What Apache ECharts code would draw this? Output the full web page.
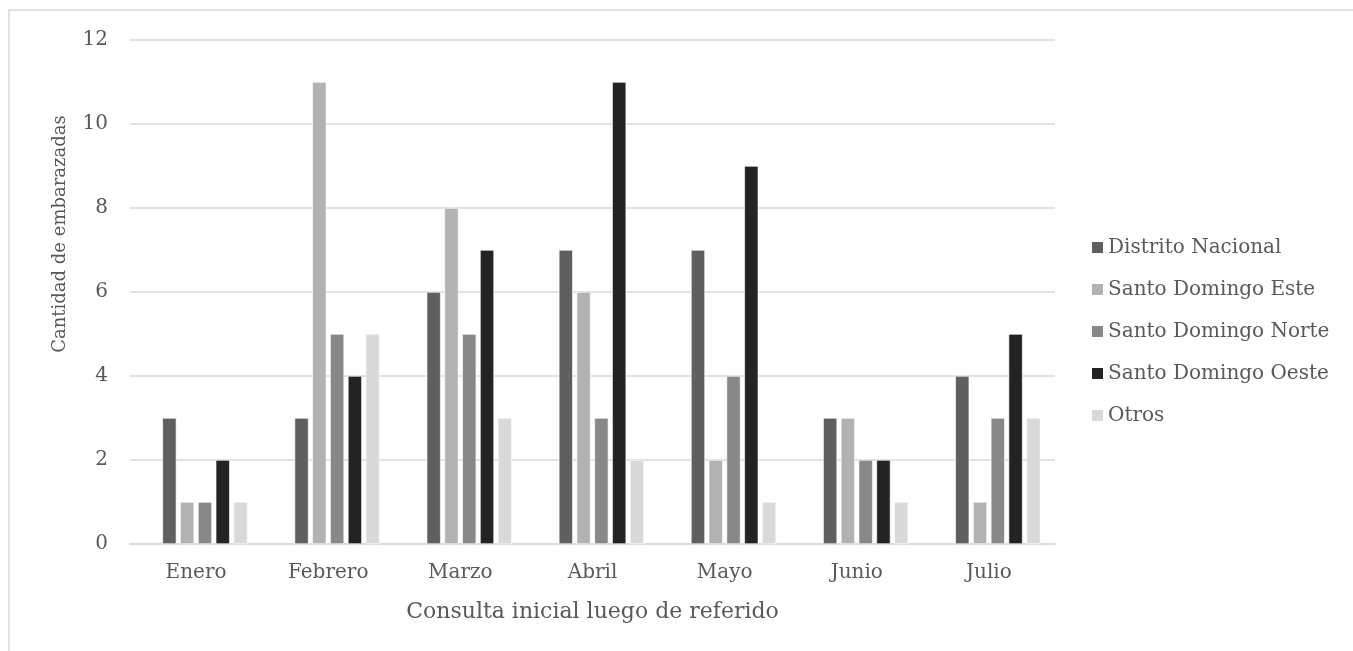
<!DOCTYPE html>
<html>
<head>
<meta charset="utf-8">
<title>Consulta inicial luego de referido</title>
<script src="https://cdn.jsdelivr.net/npm/echarts@6/dist/echarts.min.js"></script>
<style>
  html, body { margin: 0; padding: 0; background: #fff; }
  #chart { width: 1353px; height: 651px; }
</style>
</head>
<body>
<div id="chart"></div>
<script>
// Months on the category axis
const months = ['Enero', 'Febrero', 'Marzo', 'Abril', 'Mayo', 'Junio', 'Julio'];

// Pregnant patients per municipality of origin
const distritoNacional = [3, 3, 6, 7, 7, 3, 4];
const santoDomingoEste = [1, 11, 8, 6, 2, 3, 1];
const santoDomingoNorte = [1, 5, 5, 3, 4, 2, 3];
const santoDomingoOeste = [2, 4, 7, 11, 9, 2, 5];
const otros = [1, 5, 3, 2, 1, 1, 3];

// Value axis ticks
const yTicks = [0, 2, 4, 6, 8, 10, 12];

const seriesDefs = [
  { name: 'Distrito Nacional', data: distritoNacional, color: '#5f5f5f' },
  { name: 'Santo Domingo Este', data: santoDomingoEste, color: '#b2b2b2' },
  { name: 'Santo Domingo Norte', data: santoDomingoNorte, color: '#888888' },
  { name: 'Santo Domingo Oeste', data: santoDomingoOeste, color: '#232323' },
  { name: 'Otros', data: otros, color: '#d9d9d9' }
];

const FONT = 'DejaVu Serif';
const TEXT = '#595959';

const chart = echarts.init(document.getElementById('chart'), null, { renderer: 'canvas' });

// An empty leading slot keeps each month's group of bars offset as in the workbook
const series = [{
  name: '_blank',
  type: 'bar',
  data: months.map(() => null),
  barWidth: 14,
  barGap: '27%',
  silent: true
}].concat(seriesDefs.map(s => ({
  name: s.name,
  type: 'bar',
  data: s.data,
  barWidth: 14,
  barGap: '27%',
  itemStyle: { color: s.color, borderColor: '#ffffff', borderWidth: 0.6 },
  emphasis: { disabled: true }
})));

chart.setOption({
  animation: false,
  backgroundColor: '#ffffff',
  graphic: [{
    type: 'rect',
    shape: { x: 9, y: 10, width: 1400, height: 700 },
    style: { fill: 'none', stroke: '#d9d9d9', lineWidth: 1.5 },
    silent: true
  }],
  grid: { left: 130, right: 298, top: 40, bottom: 107 },
  legend: {
    orient: 'vertical',
    left: 1087,
    top: 232,
    itemWidth: 11,
    itemHeight: 11,
    itemGap: 21,
    icon: 'rect',
    data: seriesDefs.map(s => ({ name: s.name, itemStyle: { borderWidth: 0 } })),
    textStyle: { fontFamily: FONT, fontSize: 20, color: TEXT, lineHeight: 21 }
  },
  xAxis: {
    type: 'category',
    data: months,
    name: 'Consulta inicial luego de referido',
    nameLocation: 'middle',
    nameGap: 57,
    nameTextStyle: { fontFamily: FONT, fontSize: 22, color: TEXT },
    axisLine: { lineStyle: { color: '#d9d9d9', width: 1.5 } },
    axisTick: { show: false },
    axisLabel: { fontFamily: FONT, fontSize: 20, color: TEXT, margin: 19 }
  },
  yAxis: {
    type: 'value',
    min: yTicks[0],
    max: yTicks[yTicks.length - 1],
    interval: yTicks[1] - yTicks[0],
    name: 'Cantidad de embarazadas',
    nameLocation: 'middle',
    nameGap: 61,
    // title sits above the plot's centre line
    nameTextStyle: { fontFamily: FONT, fontSize: 18, color: TEXT, padding: [0, 0, 0, 116] },
    axisLine: { show: false },
    axisTick: { show: false },
    axisLabel: { fontFamily: FONT, fontSize: 20, color: TEXT, margin: 22 },
    splitLine: { lineStyle: { color: '#d9d9d9', width: 1.5 } }
  },
  series: series
});
</script>
</body>
</html>
